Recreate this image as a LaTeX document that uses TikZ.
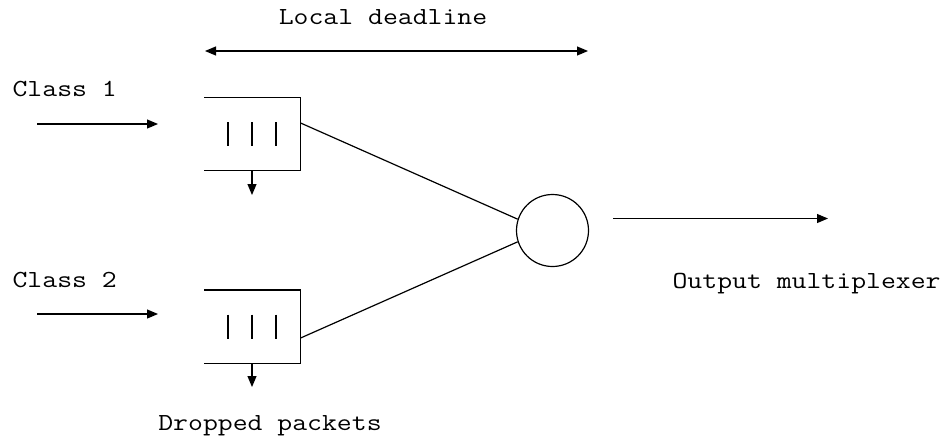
\documentclass[tikz,border=0pt]{standalone}
\usepackage{fontspec}
\newfontfamily\courfont[FakeStretch=1.18]{Latin Modern Mono}
\usetikzlibrary{arrows.meta}
\begin{document}
\begin{tikzpicture}[x=1pt,y=-1pt,
  line width=1.2pt,
  arr/.style={-{Triangle[length=11pt,width=9pt]}},
  lbl/.style={inner sep=0pt,font=\courfont\fontsize{24.5}{30}\selectfont},
  queue/.style={minimum width=95pt,minimum height=72pt,inner sep=0pt,draw=none},
  mux/.style={circle,draw,minimum size=72pt,inner sep=0pt}]
\useasboundingbox (0,0) rectangle (951,437);
% labels
\node[lbl,anchor=base] (ld) at (383,24) {Local deadline};
\node[lbl,anchor=base west] (c1) at (12,96) {Class 1};
\node[lbl,anchor=base west] (c2) at (12,287) {Class 2};
\node[lbl,anchor=base west] (om) at (672,288) {Output multiplexer};
\node[lbl,anchor=base] (dp) at (270,430) {Dropped packets};
% deadline arrow
\coordinate (dl) at (205,51);
\coordinate (dr) at (588,51);
\draw[{Triangle[length=11pt,width=9pt]}-{Triangle[length=11pt,width=9pt]}] (dl) -- (dr);
% queues
\node[queue] (q1) at (252.5,134) {};
\node[queue] (q2) at (252.5,326.5) {};
\foreach \q in {q1,q2}{
  \draw (\q.north west) -- (\q.north east) -- (\q.south east) -- (\q.south west);
  \foreach \dx in {-24.5,-0.5,23.5}
    \draw ([xshift=\dx pt,yshift=12pt]\q.center) -- ([xshift=\dx pt,yshift=-12pt]\q.center);
}
% drop arrows
\coordinate (d1) at (252,195);
\coordinate (d2) at (252,387);
\draw[arr] ([xshift=-0.5pt]q1.south) -- (d1);
\draw[arr] ([xshift=-0.5pt]q2.south) -- (d2);
% input arrows
\coordinate (i1a) at (37,124);
\coordinate (i1b) at (158,124);
\coordinate (i2a) at (37,314);
\coordinate (i2b) at (158,314);
\draw[arr] (i1a) -- (i1b);
\draw[arr] (i2a) -- (i2b);
% multiplexer
\node[mux] (m) at (552.5,230.5) {};
\draw ([yshift=11pt]q1.east) -- (m.162);
\draw ([yshift=-11.5pt]q2.east) -- (m.198);
% output arrow
\coordinate (oa) at (613,218.5);
\coordinate (ob) at (828,218.5);
\draw[arr] (oa) -- (ob);
\end{tikzpicture}
\end{document}
